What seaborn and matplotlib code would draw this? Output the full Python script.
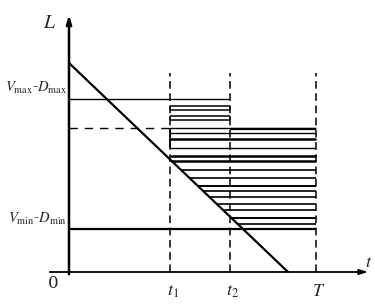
import numpy as np
import pandas as pd
import matplotlib
matplotlib.use("Agg")
import matplotlib.pyplot as plt
import seaborn as sns

# time marks on the t axis
t_marks = [101, 161, 247]
t_labels = [r"$t_1$", r"$t_2$", r"$T$"]

# the falling L(t) line
diag_t = [0, 219]
diag_L = [209, 0]

# reference levels
level_max = 173.5
level_min = 43
level_dash = 144.5
dash_top = 199

# short rectangles between t1 and t2 (top, bottom)
short_tops = [166, 156]
short_bottoms = [162, 152]

# long bars ending at T
long_levels = [138.7, 132.7, 124.3, 116, 111, 102, 94.3, 86, 81, 74.7, 67.7, 62, 54.3, 48]
long_starts = [101, 101, 101, 101, 102, 113, 120, 128, 134, 140, 148, 154, 162, 168]
long_widths = [1.0, 1.8, 1.0, 1.8, 1.8, 1.2, 1.2, 1.4, 1.2, 1.2, 1.2, 1.2, 1.4, 1.2]

sns.set_style("white")
plt.rcParams['mathtext.fontset'] = 'stix'
plt.rcParams['font.family'] = ['DejaVu Serif']

fig = plt.figure(figsize=(3.75, 3.05), dpi=100)
ax = fig.add_axes([0, 0, 1, 1])
ax.set_xlim(-69, 306)
ax.set_ylim(-33, 272)
ax.axis("off")

k = "black"

# axes with arrows
ax.annotate("", xy=(302, 0), xytext=(-22, 0),
            arrowprops=dict(arrowstyle="-|>,head_length=0.5,head_width=0.15", color=k, lw=1.3))
ax.annotate("", xy=(0, 260), xytext=(0, -5),
            arrowprops=dict(arrowstyle="-|>,head_length=0.5,head_width=0.15", color=k, lw=1.8))

# vertical dashed lines
ax.vlines(t_marks, 0, dash_top, colors=k, linestyles=(0, (5, 3)), lw=1.1)

# diagonal line
df = pd.DataFrame({"t": diag_t, "L": diag_L})
sns.lineplot(data=df, x="t", y="L", ax=ax, color=k, lw=1.6)

# reference levels
ax.hlines(level_max, 0, t_marks[1], colors=k, lw=1.0)
ax.hlines(level_min, 0, t_marks[2], colors=k, lw=1.6)
ax.hlines(level_dash, 0, t_marks[0], colors=k, linestyles=(0, (6, 5)), lw=1.0)
ax.hlines(level_dash, t_marks[0], t_marks[2], colors=k, lw=1.0)
ax.hlines(level_dash - 1.5, t_marks[1], t_marks[2], colors=k, lw=1.6)

# short rectangles
for top, bot in zip(short_tops, short_bottoms):
    ax.hlines([top, bot], t_marks[0], t_marks[1], colors=k, lw=1.1)
    ax.vlines([t_marks[0], t_marks[1]], bot, top, colors=k, lw=1.1)

# long bars
for lev, st, w in zip(long_levels, long_starts, long_widths):
    ax.hlines(lev, st, t_marks[2], colors=k, lw=w)
ax.vlines(t_marks[0], long_levels[2], level_dash, colors=k, lw=1.3)

# labels
ax.text(-19, 249, r"$L$", fontsize=14, ha="center", va="center")
ax.text(300, 10, r"$t$", fontsize=13, ha="center", va="center")
ax.text(-16, -11, "0", fontsize=12, ha="center", va="center", family="serif")
for x, lab in zip(t_marks, t_labels):
    ax.text(x + 3, -19, lab, fontsize=13, ha="center", va="center")
ax.text(-2, 184, r"$V_{\max}$-$D_{\max}$", fontsize=10.5, ha="right", va="center")
ax.text(-2, 53, r"$V_{\min}$-$D_{\min}$", fontsize=10.5, ha="right", va="center")

fig.savefig("out.png", dpi=100)
